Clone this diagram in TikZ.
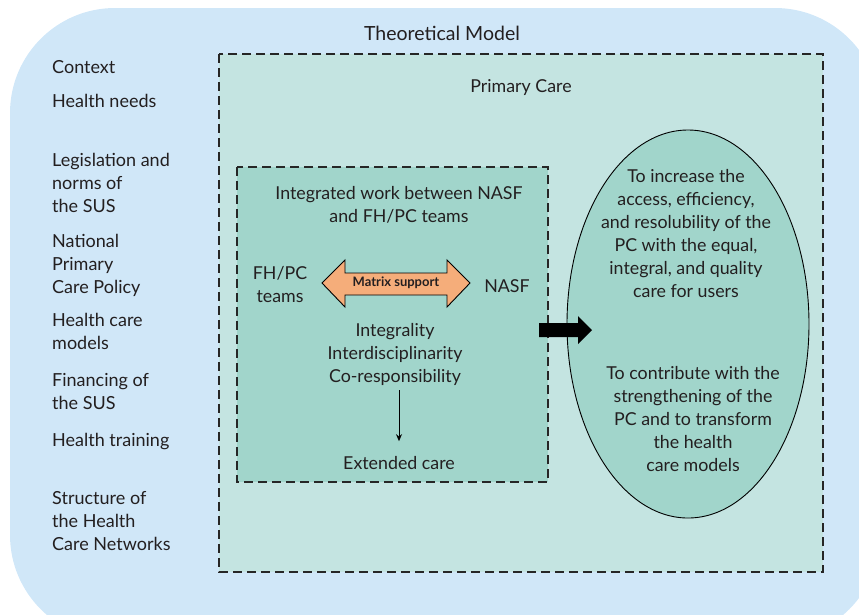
\documentclass[tikz,border=0pt]{standalone}
\usepackage{fontspec}
\setmainfont{Lato}
\usetikzlibrary{arrows.meta,shapes.geometric}
\definecolor{outerblue}{HTML}{D0E7F8}
\definecolor{pcfill}{HTML}{C4E4E1}
\definecolor{innerfill}{HTML}{A1D5CB}
\definecolor{orangefill}{HTML}{F5AD7A}
\definecolor{txt}{HTML}{231F20}
\begin{document}
\begin{tikzpicture}[x=1pt,y=-1pt,
  lbl/.style={text=txt,inner sep=0pt,font=\fontsize{17.8}{23}\selectfont},
  leftlbl/.style={lbl,anchor=north west,align=left,font=\fontsize{18}{23}\selectfont},
  ctr/.style={lbl,align=center},
  dashbox/.style={draw=black!85,line width=1.2pt,dash pattern=on 9pt off 5pt},
]
\useasboundingbox (0,0) rectangle (859,614);
\begin{scope}
\clip (0,0) rectangle (859,614);
\fill[outerblue,rounded corners=105pt] (10,8) rectangle (880,640);
\end{scope}
\node[lbl,font=\fontsize{19.5}{23}\selectfont] (title) at (442,33) {Theoretical Model};
% left column
\node[leftlbl] (ctx) at (52,60) {Context};
\node[leftlbl] (needs) at (52,94) {Health needs};
\node[leftlbl] (leg) at (52,153) {Legislation and\\norms of\\the SUS};
\node[leftlbl] (npcp) at (52,234) {National\\Primary\\Care Policy};
\node[leftlbl] (hcm) at (52,313) {Health care\\models};
\node[leftlbl] (fin) at (52,373) {Financing of\\the SUS};
\node[leftlbl] (train) at (52,433) {Health training};
\node[leftlbl] (struct) at (52,491) {Structure of\\the Health\\Care Networks};
% primary care box
\draw[dashbox,fill=pcfill] (219,54) rectangle (823,572);
\node[lbl] (pc) at (521,88) {Primary Care};
% inner box
\draw[dashbox,fill=innerfill] (237,167) rectangle (548,482);
\node[ctr] (integ) at (399,205) {Integrated work between NASF\\and FH/PC teams};
\node[ctr] (fhpc) at (280,285) {FH/PC\\teams};
\node[lbl] (nasf) at (507,286) {NASF};
\fill[orangefill,draw=black,line width=0.9pt]
  (322,283) -- (345,260) -- (345,273) -- (447,273) -- (447,260) -- (470,283)
  -- (447,307) -- (447,295) -- (345,295) -- (345,307) -- cycle;
\node[lbl,font=\fontsize{13}{14}\selectfont\bfseries] (ms) at (396,283) {Matrix support};
\node[ctr] (values) at (395,354) {Integrality\\Interdisciplinarity\\Co-responsibility};
\node[lbl] (ext) at (399,463) {Extended care};
\draw[-{Stealth[length=7pt,width=6pt]},line width=1pt] (values.south -| ext.north) ++(0,5) -- ([yshift=15pt]ext.north);
% ellipse
\node[ellipse,draw=black,line width=0.9pt,fill=innerfill,minimum width=242pt,minimum height=388pt,inner sep=0pt] (ell) at (688,324) {};
\node[ctr] (goal1) at (686,234) {To increase the\\access, efficiency,\\and resolubility of the\\PC with the equal,\\integral, and quality\\care for users};
\node[ctr] (goal2) at (693,419) {To contribute with the\\strengthening of the\\PC and to transform\\the health\\care models};
% thick arrow
\fill[black] (539,323) -- (578,323) -- (578,316) -- (592,330) -- (578,344) -- (578,337) -- (539,337) -- cycle;
\end{tikzpicture}
\end{document}
